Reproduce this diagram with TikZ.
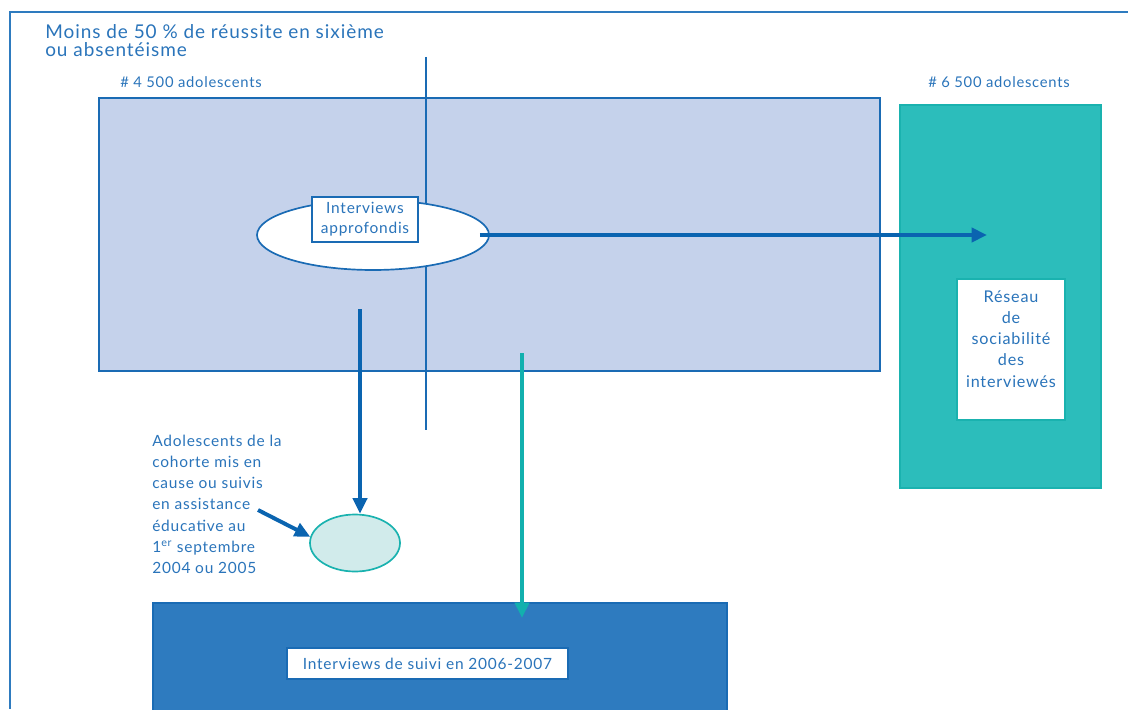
\documentclass[tikz,border=0pt]{standalone}
\usepackage{fontspec}
\setmainfont{Lato}[LetterSpace=5]
\usetikzlibrary{arrows.meta,shapes.geometric}
\definecolor{inkblue}{HTML}{2A74BA}
\definecolor{edgeblue}{HTML}{1A6BB4}
\definecolor{arrowblue}{HTML}{0A64B0}
\definecolor{lavender}{HTML}{C5D2EB}
\definecolor{lagoon}{HTML}{2CBDBB}
\definecolor{lagoonedge}{HTML}{1AB2AF}
\definecolor{lagoonarrow}{HTML}{12B0AE}
\definecolor{mist}{HTML}{D1EBEB}
\definecolor{deepblue}{HTML}{2E7BBF}
\begin{document}
\begin{tikzpicture}
  [x=0.025cm,y=-0.025cm,
    every node/.style={text=inkblue,inner sep=0pt,
    font=\fontsize{11}{15}\selectfont},
    panel/.style={draw,rectangle,line width=1.4pt},
    cohort/.style={panel,draw=edgeblue,fill=lavender},
    network/.style={panel,draw=lagoonedge,fill=lagoon},
    followup/.style={panel,draw=edgeblue,fill=deepblue},
    whitebox/.style={draw,rectangle,line width=1.2pt,fill=white,
    align=center},
    blob/.style={draw,ellipse,line width=1.2pt},
    heavy/.style={line width=3.3pt,-{Triangle[length=11pt,width=10pt]}}]
  \useasboundingbox (0,0) rectangle (1128,709);
  \draw[deepblue,line width=1.2pt] (1128,12) -- (10,12) -- (10,709);
  \node[anchor=north west,align=left,
    font=\fontsize{13.5}{12.8}\selectfont] (title) at (45,24)
    {Moins de 50 \% de réussite en sixième\\ou absentéisme};
  \node[anchor=base west,font=\fontsize{10.5}{13}\selectfont]
    (cohortlabel) at (120,88) {\# 4 500 adolescents};
  \node[anchor=base west,font=\fontsize{10.5}{13}\selectfont]
    (networklabel) at (928,88) {\# 6 500 adolescents};
  \node[cohort,minimum width=781*0.025cm,minimum height=273*0.025cm]
    (cohort) at (489.5,234.5) {};
  \node[network,minimum width=201*0.025cm,minimum height=383*0.025cm]
    (network) at (1000.5,296.5) {};
  \node[followup,minimum width=574*0.025cm,minimum height=120*0.025cm]
    (followup) at (440,663) {};
  \draw[edgeblue,line width=1pt] (426,57) -- (426,430);
  \node[blob,draw=edgeblue,fill=white,minimum width=232*0.025cm,
    minimum height=70*0.025cm] (deep) at (373,235) {};
  \node[whitebox,draw=edgeblue,minimum width=106*0.025cm,
    minimum height=45*0.025cm,font=\fontsize{11}{14}\selectfont]
    (deeplabel) at (365,219.5) {Interviews\\approfondis};
  \node[whitebox,draw=lagoonedge,minimum width=108*0.025cm,
    minimum height=141*0.025cm,font=\fontsize{11.5}{15}\selectfont]
    (reseau) at (1011,349.5)
    {Réseau\\de\\sociabilité\\des\\interviewés\\\mbox{}};
  \node[whitebox,draw=edgeblue,minimum width=281*0.025cm,
    minimum height=31*0.025cm] (suivi) at (427.5,663.5)
    {Interviews de suivi en 2006-2007};
  \node[blob,draw=lagoonedge,fill=mist,minimum width=90*0.025cm,
    minimum height=57*0.025cm] (care) at (355,543) {};
  \node[anchor=north west,align=left] (carelabel) at (152,435)
    {Adolescents de la\\cohorte mis en\\cause ou suivis\\en assistance\\
    éducative au\\1\textsuperscript{er} septembre\\2004 ou 2005};
  \coordinate (tip) at (987,235);
  \coordinate (drop) at (360,309);
  \coordinate (follow) at (522,353);
  \coordinate (followtip) at (522,618);
  \coordinate (pointer) at (258,510);
  \draw[heavy,arrowblue] ([xshift=-0.25cm]deep.east) -- (tip);
  \draw[heavy,arrowblue] (drop) -- (drop |- care.north);
  \draw[heavy,lagoonarrow] (follow) -- (followtip);
  \draw[heavy,arrowblue,line width=2.8pt] (pointer) -- (care.172);
\end{tikzpicture}
\end{document}
